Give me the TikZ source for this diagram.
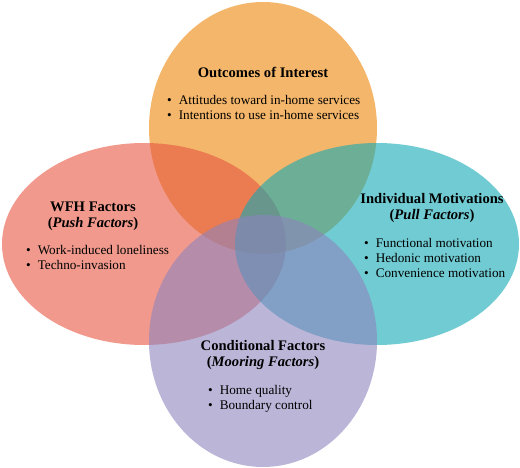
\documentclass[tikz,border=0pt]{standalone}
\usepackage{fontspec}
\setmainfont{Liberation Serif}
\usepackage{xcolor}
\usepackage{tikz}

\definecolor{outcomeorange}{RGB}{237,133,7}
\definecolor{pushred}{RGB}{230,85,63}
\definecolor{pullteal}{RGB}{18,168,180}
\definecolor{mooringpurple}{RGB}{142,132,190}

\tikzset{
  blob/.style={fill opacity=0.6, draw=none},
  heading/.style={font=\fontsize{14.6}{15.8}\selectfont\bfseries, align=center, inner sep=0pt},
  items/.style={font=\fontsize{13.2}{14.9}\selectfont, align=left, anchor=north west, inner sep=0pt}
}
\newcommand{\itm}{\textbullet\hspace{7pt}}

\begin{document}
\begin{tikzpicture}[x=1pt, y=-1pt]
\useasboundingbox (0,0) rectangle (520,468);

\fill[blob, outcomeorange] (263,128) ellipse [x radius=114, y radius=126];
\fill[blob, pushred] (144,244) ellipse [x radius=142, y radius=101];
\fill[blob, pullteal] (377,244) ellipse [x radius=142, y radius=101];
\fill[blob, mooringpurple] (263,341) ellipse [x radius=114, y radius=126];

% top
\node[heading] (outcometitle) at (263,72) {Outcomes of Interest};
\node[items] (outcomelist) at (167,95) {\itm Attitudes toward in-home services\\ \itm Intentions to use in-home services};

% left
\node[heading] (pushtitle) at (93,216) {WFH Factors\\(\textit{Push Factors})};
\node[items] (pushlist) at (26,245.5) {\itm Work-induced loneliness\\ \itm Techno-invasion};

% right
\node[heading] (pulltitle) at (432,208) {Individual Motivations\\(\textit{Pull Factors})};
\node[items] (pulllist) at (364,238.5) {\itm Functional motivation\\ \itm Hedonic motivation\\ \itm Convenience motivation};

% bottom
\node[heading] (mooringtitle) at (263,355) {Conditional Factors\\(\textit{Mooring Factors})};
\node[items] (mooringlist) at (208,385.5) {\itm Home quality\\ \itm Boundary control};
\end{tikzpicture}
\end{document}
